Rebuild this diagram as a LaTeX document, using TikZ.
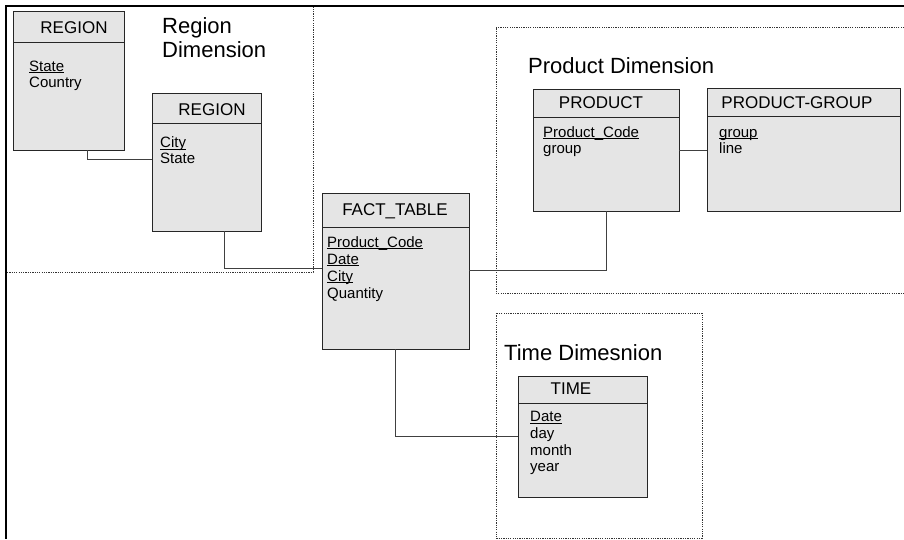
\documentclass[tikz,border=0pt]{standalone}
\usepackage{fontspec}
\setmainfont{Liberation Sans}
\usetikzlibrary{calc}

% an entity box with a header band: name, centre x, centre y, width, height, header height
\newcommand\entitybox[6]{%
  \node[entity, minimum width=#4pt, minimum height=#5pt] (#1) at (#2,#3) {};
  \draw[entity line] ([yshift=-#6pt]#1.north west) -- ([yshift=-#6pt]#1.north east);}

% key attribute: a thin underline set close to the baseline
\newcommand\keyattr[1]{\setbox0\hbox{#1}\rlap{\rule[-1.9pt]{\wd0}{0.8pt}}\box0}

\begin{document}
\begin{tikzpicture}[x=1pt,y=-1pt,
  entity/.style={draw=black!85, fill=black!10, line width=0.9pt, inner sep=0pt, outer sep=0pt},
  entity line/.style={draw=black!85, line width=0.9pt},
  link/.style={draw=black!75, line width=1pt},
  zone/.style={draw=black!80, line width=0.9pt, dash pattern=on 1.2pt off 1.1pt},
  frame/.style={draw=black, line width=2.2pt},
  title/.style={font=\fontsize{17}{20}\selectfont, anchor=base, inner sep=0pt},
  attr/.style={font=\fontsize{15}{18}\selectfont, anchor=base west, inner sep=0pt, align=left},
  zonelabel/.style={font=\fontsize{22}{26}\selectfont, anchor=base west, inner sep=0pt}]

\useasboundingbox (0,0) rectangle (904,539);

% page frame on the top and left
\draw[frame] (5,6) -- (904,6);
\draw[frame] (6,5) -- (6,539);

% dimension zones
\draw[zone] (7,272) -- (313,272) -- (313,7);
\draw[zone] (904,27) -- (496,27) -- (496,293) -- (904,293);
\draw[zone] (496,313) rectangle (702,538);

\node[zonelabel] (lblregion1) at (162,33) {Region};
\node[zonelabel] (lblregion2) at (162,57) {Dimension};
\node[zonelabel] (lblproduct) at (528,73) {Product Dimension};
\node[zonelabel] (lbltime) at (504,360) {Time Dimesnion};

% entities
\entitybox{regA}{68.5}{80.5}{111}{139}{31}
\entitybox{regB}{206.5}{162}{109}{138}{30}
\entitybox{fact}{395.5}{271}{147}{156}{34}
\entitybox{prod}{606}{150}{146}{122}{28}
\entitybox{pgrp}{803.5}{149.5}{193}{123}{28}
\entitybox{time}{582.5}{436.5}{129}{121}{27}

% entity titles
\node[title] (tregA) at (74,33) {REGION};
\node[title] (tregB) at (212,115) {REGION};
\node[title] (tfact) at (395,215) {FACT\_TABLE};
\node[title] (tprod) at (601,108) {PRODUCT};
\node[title] (tpgrp) at (797,108) {PRODUCT-GROUP};
\node[title] (ttime) at (571,394) {TIME};

% attributes
\node[attr] (aregA1) at (29,71) {\keyattr{State}};
\node[attr] (aregA2) at (29,87) {Country};
\node[attr] (aregB1) at (160,147.5) {\keyattr{City}};
\node[attr] (aregB2) at (160,163.5) {State};
\node[attr] (afact1) at (327,247) {\keyattr{Product\_Code}};
\node[attr] (afact2) at (327,264) {\keyattr{Date}};
\node[attr] (afact3) at (327,281) {\keyattr{City}};
\node[attr] (afact4) at (327,298) {Quantity};
\node[attr] (aprod1) at (543,137) {\keyattr{Product\_Code}};
\node[attr] (aprod2) at (543,153) {group};
\node[attr] (apgrp1) at (719,137) {\keyattr{group}};
\node[attr] (apgrp2) at (719,153) {line};
\node[attr] (atime1) at (530,421.5) {\keyattr{Date}};
\node[attr] (atime2) at (530,438) {day};
\node[attr] (atime3) at (530,455) {month};
\node[attr] (atime4) at (530,471) {year};

% relationships
\draw[link] ([xshift=74pt]regA.south west) |- ([yshift=-66pt]regB.north west);
\draw[link] ([xshift=72pt]regB.south west) |- ([yshift=-75pt]fact.north west);
\draw[link] ([yshift=-77pt]fact.north east) -| (prod.south);
\draw[link] (prod.east) -- (prod.east -| pgrp.west);
\draw[link] (fact.south) |- (time.west);
\end{tikzpicture}
\end{document}
